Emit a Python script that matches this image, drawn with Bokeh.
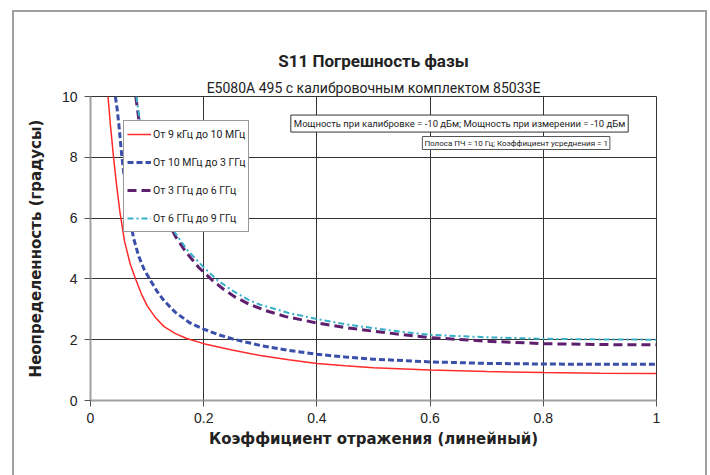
from bokeh.plotting import figure
from bokeh.models import (Legend, LegendItem, Label, FixedTicker, Range1d, Title, InlineStyleSheet)
from bokeh.embed import file_html
from bokeh.resources import INLINE

title_text = "S11 Погрешность фазы"
subtitle_text = "E5080A 495 с калибровочным комплектом 85033E"
x_label = "Коэффициент отражения (линейный)"
y_label = "Неопределенность (градусы)"
note1 = "Мощность при калибровке = -10 дБм; Мощность при измерении = -10 дБм"
note2 = "Полоса ПЧ = 10 Гц; Коэффициент усреднения = 1"

series_names = ["От 9 кГц до 10 МГц", "От 10 МГц до 3 ГГц", "От 3 ГГц до 6 ГГц", "От 6 ГГц до 9 ГГц"]

red_x = [0.031, 0.035, 0.041, 0.046, 0.052, 0.060, 0.070, 0.080, 0.090, 0.100, 0.115, 0.130, 0.150, 0.170,
         0.200, 0.250, 0.300, 0.350, 0.400, 0.450, 0.500, 0.600, 0.700, 0.800, 0.900, 1.000]
red_y = [10.0, 9.1, 7.95, 7.1, 6.2, 5.25, 4.5, 3.98, 3.5, 3.12, 2.72, 2.43, 2.2, 2.04,
         1.87, 1.66, 1.48, 1.34, 1.22, 1.14, 1.08, 1.0, 0.95, 0.92, 0.90, 0.89]

blue_x = [0.044, 0.047, 0.050, 0.055, 0.060, 0.066, 0.071, 0.076, 0.085, 0.095, 0.106, 0.118, 0.130, 0.150,
          0.175, 0.200, 0.225, 0.250, 0.300, 0.350, 0.400, 0.450, 0.500, 0.600, 0.700, 0.800, 0.900, 1.000]
blue_y = [10.0, 9.6, 9.1, 8.1, 7.3, 6.4, 5.85, 5.35, 4.75, 4.3, 3.95, 3.58, 3.28, 2.9,
          2.56, 2.35, 2.17, 2.03, 1.81, 1.65, 1.52, 1.43, 1.36, 1.27, 1.22, 1.20, 1.19, 1.19]

purple_x = [0.080, 0.085, 0.090, 0.100, 0.112, 0.125, 0.138, 0.150, 0.168, 0.191, 0.215, 0.235, 0.256, 0.280,
            0.309, 0.345, 0.400, 0.450, 0.500, 0.550, 0.600, 0.700, 0.800, 0.900, 1.000]
purple_y = [10.0, 9.3, 8.75, 7.95, 7.1, 6.4, 5.85, 5.4, 4.9, 4.38, 3.96, 3.66, 3.4, 3.17,
            2.96, 2.76, 2.55, 2.4, 2.28, 2.17, 2.07, 1.95, 1.87, 1.84, 1.83]

cyan_x = [0.081, 0.086, 0.091, 0.100, 0.112, 0.125, 0.138, 0.150, 0.171, 0.200, 0.225, 0.250, 0.280, 0.300,
          0.350, 0.400, 0.450, 0.500, 0.550, 0.600, 0.700, 0.800, 0.900, 1.000]
cyan_y = [10.0, 9.35, 8.8, 8.05, 7.2, 6.5, 5.95, 5.5, 4.95, 4.38, 3.95, 3.62, 3.3, 3.15,
          2.88, 2.68, 2.51, 2.38, 2.26, 2.16, 2.08, 2.03, 2.01, 2.0]

x_ticks = [0, 0.2, 0.4, 0.6, 0.8, 1.0]
x_tick_labels = ["0", "0.2", "0.4", "0.6", "0.8", "1"]
y_ticks = [0, 2, 4, 6, 8, 10]

p = figure(width=700, height=465, output_backend="svg", toolbar_location=None,
           x_range=Range1d(0, 1), y_range=Range1d(0, 10),
           min_border_left=90, min_border_right=44, min_border_top=96, min_border_bottom=65)
p.background_fill_color = "white"
p.border_fill_color = "white"
p.outline_line_color = "#333333"
p.outline_line_width = 1

p.xgrid.ticker = FixedTicker(ticks=x_ticks)
p.ygrid.ticker = FixedTicker(ticks=y_ticks)
for g in (p.xgrid, p.ygrid):
    g.grid_line_color = "#333333"
    g.grid_line_width = 1

p.xaxis.ticker = FixedTicker(ticks=x_ticks)
p.xaxis.major_label_overrides = {t: l for t, l in zip(x_ticks, x_tick_labels)}
p.yaxis.ticker = FixedTicker(ticks=y_ticks)
for ax in (p.xaxis, p.yaxis):
    ax.axis_line_color = "#A0A0A0"
    ax.axis_line_width = 2
    ax.major_tick_line_color = "#555555"
    ax.major_tick_out = 6
    ax.major_tick_in = 0
    ax.minor_tick_line_color = None
    ax.major_label_text_font = "Liberation Sans"
    ax.major_label_text_font_size = "14px"
    ax.major_label_text_color = "#222222"
    ax.axis_label_text_font = "DejaVu Sans"
    ax.axis_label_text_font_style = "bold"
    ax.axis_label_text_font_size = "15px"
    ax.axis_label_text_color = "#222222"
p.xaxis.major_label_standoff = 6
p.yaxis.major_label_standoff = 7
p.xaxis.axis_label = x_label
p.yaxis.axis_label = y_label
p.xaxis.axis_label_standoff = 4
p.yaxis.axis_label_standoff = 14

r1 = p.line(red_x, red_y, line_color="#FF2A2A", line_width=1.5)
r2 = p.line(blue_x, blue_y, line_color="#3A4FAA", line_width=3, line_dash="6 3")
r3 = p.line(purple_x, purple_y, line_color="#5E1F6E", line_width=3, line_dash="9 5")
r4 = p.line(cyan_x, cyan_y, line_color="#36AFC9", line_width=2, line_dash="6 3 2 3")

legend = Legend(items=[LegendItem(label=n, renderers=[r]) for n, r in zip(series_names, [r1, r2, r3, r4])],
                location=(33, 168), padding=3, spacing=8, margin=0,
                glyph_width=24, glyph_height=20, label_height=20, label_standoff=2,
                label_text_font="Roboto", label_text_font_size="10.5px", label_text_color="#222222",
                border_line_color="#333333", border_line_width=1,
                background_fill_color="white", background_fill_alpha=1)
p.add_layout(legend, "center")

# titles (added closest-first); the bold title uses a taller line to sit higher
p.add_layout(Title(text=subtitle_text, align="center", offset=-7, text_font="Roboto",
                   text_font_size="14px", text_font_style="normal", text_color="#222222",
                   standoff=2), "above")
p.add_layout(Title(text=title_text, align="center", offset=-9, text_font="Roboto",
                   text_font_size="17px", text_font_style="bold", text_color="#222222",
                   text_line_height=1.6, vertical_align="top", standoff=8), "above")

p.add_layout(Label(x=0.652, y=9.11, text=note1, text_align="center", text_baseline="middle",
                   text_font="Roboto", text_font_size="9.5px", text_color="#222222",
                   background_fill_color="white", border_line_color="#333333", border_line_width=1,
                   padding=3))
p.add_layout(Label(x=0.752, y=8.47, text=note2, text_align="center", text_baseline="middle",
                   text_font="Roboto", text_font_size="8px", text_color="#222222",
                   background_fill_color="white", border_line_color="#555555", border_line_width=1,
                   padding=2))

# outer gray page frame
p.stylesheets = [InlineStyleSheet(css=(
    ":host { position: relative; }"
    ":host::after { content: ''; position: absolute; left: 12px; top: 10px; width: 695px; height: 520px;"
    " border: 2px solid #A0A0A0; box-sizing: border-box; pointer-events: none; z-index: 10; }"
))]

open("out.html", "w").write(file_html(p, INLINE))
